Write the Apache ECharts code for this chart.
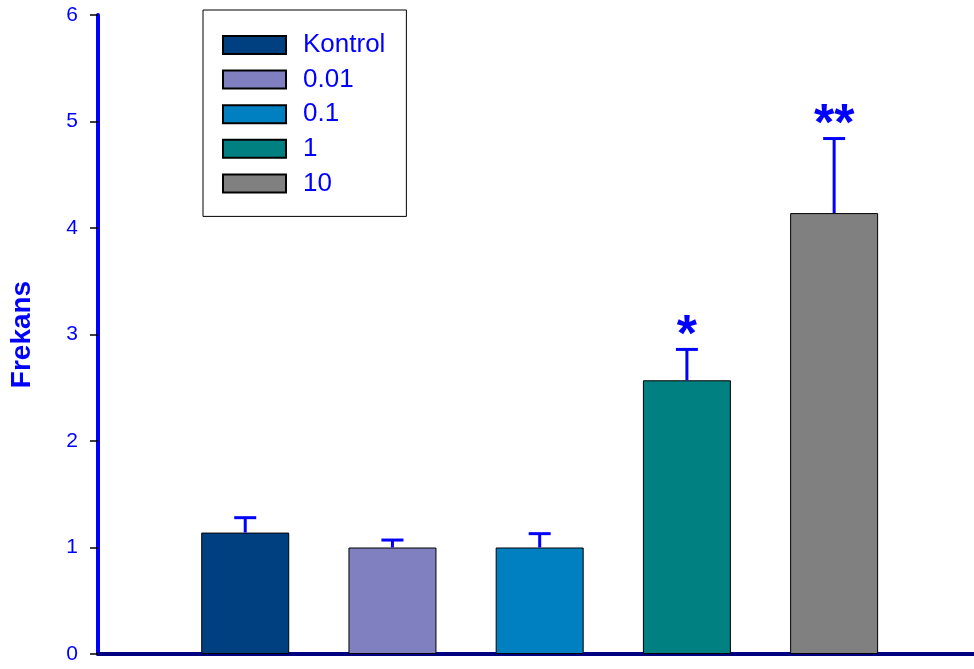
<!DOCTYPE html>
<html lang="en">

<head>
    <meta charset="UTF-8">
    <title>Frekans</title>
    <script src="https://cdn.jsdelivr.net/npm/echarts@6/dist/echarts.min.js"></script>
</head>

<body style="margin:0">
    <div id="main" style="width: 974px;height:669px;"></div>
    <script type="text/javascript">
        // gruplar ve ortalama / ust hata degerleri
        var groups = ['Kontrol', '0.01', '0.1', '1', '10'];
        var means = [1.14, 1.0, 1.0, 2.57, 4.14];
        var upper = [1.28, 1.07, 1.13, 2.86, 4.84];
        var stars = ['', '', '', '*', '**'];
        var colors = ['#004080', '#8080c0', '#0080c0', '#008080', '#808080'];
        var yTicks = [0, 1, 2, 3, 4, 5, 6];

        var myChart = echarts.init(document.getElementById('main'));

        var series = [];
        for (var i = 0; i < groups.length; i++) {
            series.push({
                name: groups[i],
                type: 'bar',
                barWidth: 88,
                barGap: '-100%',
                data: [[i + 1, means[i]]],
                itemStyle: {
                    color: colors[i],
                    borderColor: '#000',
                    borderWidth: 1
                }
            });
        }

        var errData = [];
        for (var i = 0; i < groups.length; i++) {
            errData.push([i + 1, upper[i], means[i], stars[i]]);
        }

        series.push({
            type: 'custom',
            z: 5,
            data: errData,
            encode: { x: 0, y: 1 },
            renderItem: function (params, api) {
                var top = api.coord([api.value(0), api.value(1)]);
                var base = api.coord([api.value(0), api.value(2)]);
                var st = { stroke: '#0000ff', lineWidth: 3 };
                var kids = [
                    { type: 'line', shape: { x1: top[0], y1: top[1], x2: base[0], y2: base[1] }, style: st },
                    { type: 'line', shape: { x1: top[0] - 11, y1: top[1], x2: top[0] + 11, y2: top[1] }, style: st }
                ];
                var s = errData[params.dataIndex][3];
                if (s) {
                    kids.push({
                        type: 'text',
                        style: {
                            text: s,
                            x: top[0],
                            y: top[1] + 13,
                            align: 'center',
                            verticalAlign: 'bottom',
                            fill: '#0000ff',
                            font: 'bold 52px "Liberation Sans", Arial, sans-serif'
                        }
                    });
                }
                return { type: 'group', children: kids };
            }
        });

        var option = {
            animation: false,
            textStyle: { fontFamily: '"Liberation Sans", Arial, sans-serif' },
            grid: { left: 97, right: 0, top: 15, bottom: 15 },
            legend: {
                data: groups,
                orient: 'vertical',
                left: 203,
                top: 10,
                icon: 'rect',
                itemWidth: 63,
                itemHeight: 18,
                itemGap: 8.6,
                padding: [22, 21, 20, 19],
                borderColor: '#000',
                borderWidth: 1,
                selectedMode: false,
                textStyle: {
                    color: '#0000ff',
                    fontSize: 26,
                    lineHeight: 26,
                    padding: [0, 0, 0, 12]
                }
            },
            xAxis: {
                type: 'value',
                min: 0,
                max: 5.95,
                splitLine: { show: false },
                axisTick: { show: false },
                axisLabel: { show: false },
                axisLine: { lineStyle: { color: '#000080', width: 4 } }
            },
            yAxis: {
                type: 'value',
                min: yTicks[0],
                max: yTicks[yTicks.length - 1],
                interval: 1,
                name: 'Frekans',
                nameLocation: 'middle',
                nameGap: 62,
                nameTextStyle: { color: '#0000ff', fontSize: 28, fontWeight: 'bold' },
                splitLine: { show: false },
                axisLine: { show: true, lineStyle: { color: '#0000ff', width: 4 } },
                axisTick: { show: true, length: 8, lineStyle: { color: '#000', width: 1.5 } },
                axisLabel: { color: '#0000ff', fontSize: 21, margin: 20 }
            },
            series: series
        };

        option && myChart.setOption(option);
    </script>
</body>

</html>
